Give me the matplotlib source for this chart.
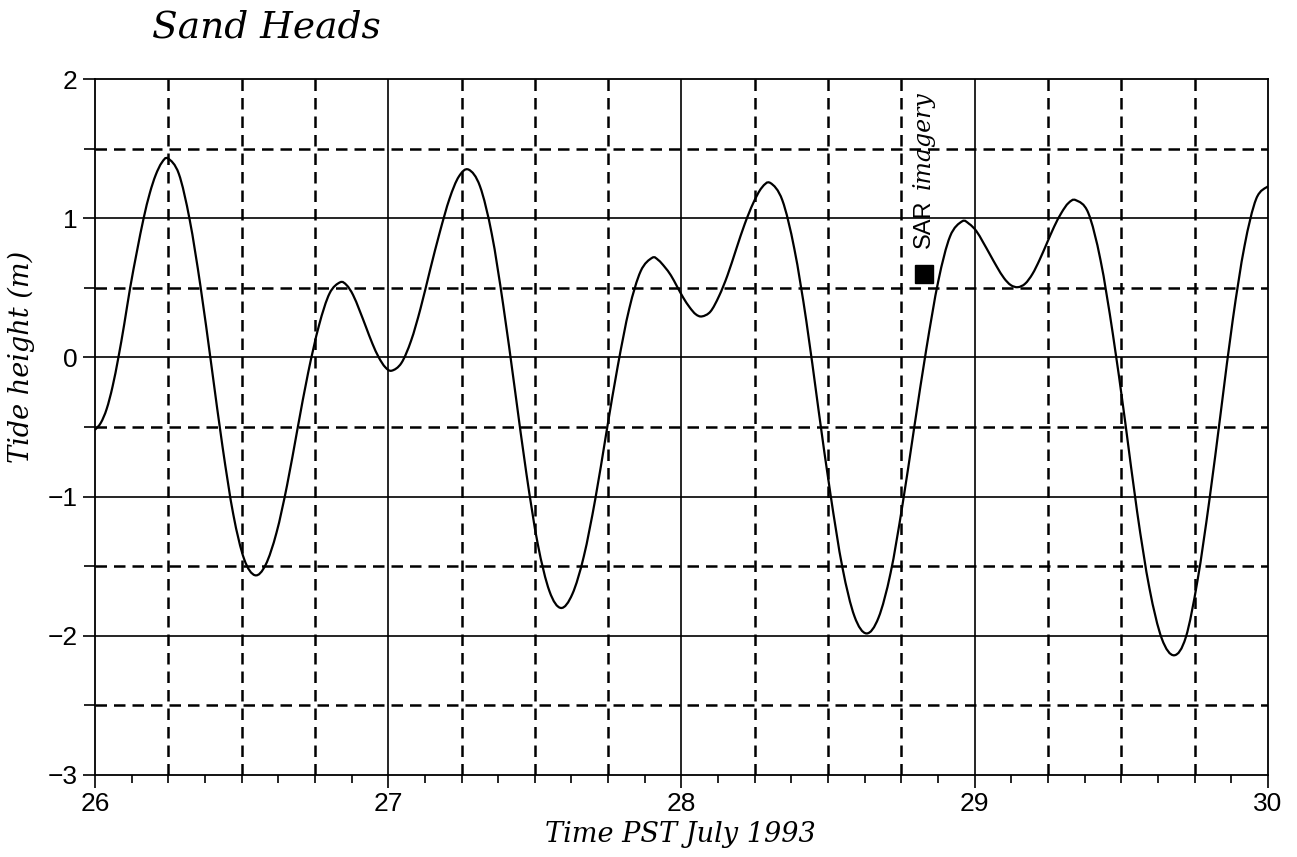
import matplotlib.pyplot as plt
import numpy as np
from matplotlib.ticker import MultipleLocator
from matplotlib.path import Path
from matplotlib.patches import PathPatch

# tide height (days of July 1993, metres)
time_days = [
    26.000, 26.020, 26.040, 26.060, 26.080, 26.100, 26.120, 26.143, 26.166, 26.187, 26.207, 26.228,
    26.249, 26.286, 26.323, 26.360, 26.398, 26.435, 26.472, 26.509,
    26.546, 26.582, 26.619, 26.655, 26.691, 26.727, 26.764, 26.800,
    26.836, 26.858, 26.880, 26.902, 26.924, 26.946, 26.968, 26.990,
    27.012, 27.045, 27.078, 27.110, 27.143, 27.176, 27.209, 27.241,
    27.274, 27.313, 27.353, 27.392, 27.432, 27.471, 27.510, 27.550,
    27.589, 27.628, 27.667, 27.706, 27.744, 27.783, 27.822, 27.861,
    27.900, 27.921, 27.943, 27.964, 27.985, 28.006, 28.028, 28.049,
    28.070, 28.099, 28.128, 28.157, 28.187, 28.216, 28.245, 28.274,
    28.303, 28.344, 28.385, 28.426, 28.467, 28.508, 28.549, 28.590,
    28.631, 28.672, 28.713, 28.753, 28.794, 28.835, 28.876, 28.916,
    28.957, 28.981, 29.005, 29.028, 29.052, 29.076, 29.100, 29.123,
    29.147, 29.172, 29.197, 29.221, 29.246, 29.271, 29.296, 29.320,
    29.345, 29.387, 29.429, 29.471, 29.513, 29.554, 29.596, 29.638,
    29.680, 29.720, 29.760, 29.800, 29.840, 29.880, 29.920, 29.960,
    30.000]

tide_m = [
    -0.52, -0.47, -0.37, -0.21, 0.00, 0.24, 0.50, 0.76, 1.00, 1.18, 1.31, 1.40,
    1.43, 1.32, 0.99, 0.51, -0.07, -0.64, -1.13, -1.45,
    -1.565, -1.49, -1.26, -0.92, -0.51, -0.11, 0.23, 0.46,
    0.54, 0.52, 0.45, 0.34, 0.22, 0.10, 0.00, -0.07,
    -0.095, -0.04, 0.12, 0.35, 0.63, 0.90, 1.14, 1.30,
    1.35, 1.23, 0.89, 0.38, -0.23, -0.83, -1.34, -1.68,
    -1.80, -1.70, -1.43, -1.02, -0.54, -0.06, 0.35, 0.62,
    0.716, 0.70, 0.65, 0.59, 0.51, 0.43, 0.36, 0.31,
    0.295, 0.33, 0.44, 0.59, 0.78, 0.96, 1.11, 1.22,
    1.254, 1.13, 0.78, 0.26, -0.37, -0.98, -1.51, -1.86,
    -1.983, -1.87, -1.55, -1.07, -0.50, 0.06, 0.55, 0.87,
    0.978, 0.96, 0.91, 0.83, 0.74, 0.65, 0.57, 0.52,
    0.505, 0.53, 0.60, 0.70, 0.82, 0.94, 1.04, 1.11,
    1.13, 1.04, 0.70, 0.17, -0.46, -1.11, -1.66, -2.02,
    -2.14, -2.01, -1.60, -1.03, -0.38, 0.27, 0.80, 1.14,
    1.23]

# SAR overpass marker
sar_time = 28.826
sar_height = 0.60

serif_it = dict(family='DejaVu Serif', style='italic')
sans = 'Liberation Sans'


def smooth_path(xs, ys):
    # Catmull-Rom through the read points, drawn as cubic Bezier segments
    pts = np.column_stack([xs, ys])
    n = len(pts)
    verts = [pts[0]]
    codes = [Path.MOVETO]
    for i in range(n - 1):
        p0 = pts[max(i - 1, 0)]
        p1 = pts[i]
        p2 = pts[i + 1]
        p3 = pts[min(i + 2, n - 1)]
        verts += [p1 + (p2 - p0) / 6, p2 - (p3 - p1) / 6, p2]
        codes += [Path.CURVE4] * 3
    return Path(verts, codes)


fig = plt.figure(figsize=(12.97, 8.57), dpi=100)
ax = fig.add_axes([0.0732, 0.0957, 0.9044, 0.812])

# grid: solid on whole units, dashed on quarter days / half metres
for x in np.arange(26.25, 30, 0.25):
    if abs(x - round(x)) < 1e-6:
        ax.axvline(x, color='black', lw=1.2, zorder=1)
    else:
        ax.axvline(x, color='black', lw=1.8, dashes=(4.6, 2.8), zorder=1)
for y in np.arange(-2.5, 2, 0.5):
    if abs(y - round(y)) < 1e-6:
        ax.axhline(y, color='black', lw=1.2, zorder=1)
    else:
        ax.axhline(y, color='black', lw=1.8, dashes=(4.6, 2.8), zorder=1)

ax.add_patch(PathPatch(smooth_path(time_days, tide_m), fill=False,
                       edgecolor='black', lw=1.6, zorder=3))
ax.plot(sar_time, sar_height, marker='s', color='black', markersize=13, zorder=4)

ax.text(sar_time, 0.79, 'SAR', rotation=90, ha='center', va='bottom',
        fontsize=17, family=sans, zorder=4)
ax.text(sar_time, 1.21, 'imagery', rotation=90, ha='center', va='bottom',
        fontsize=17, zorder=4, **serif_it)

ax.set_xlim(26, 30)
ax.set_ylim(-3, 2)
ax.xaxis.set_major_locator(MultipleLocator(1))
ax.xaxis.set_minor_locator(MultipleLocator(0.125))
ax.yaxis.set_major_locator(MultipleLocator(1))
ax.yaxis.set_minor_locator(MultipleLocator(0.5))
ax.tick_params(which='both', direction='out', width=1.2, labelsize=19)
ax.tick_params(axis='x', which='major', length=9, pad=3.5)
ax.tick_params(axis='x', which='minor', length=6)
ax.tick_params(axis='y', which='major', length=9, pad=3.5)
ax.tick_params(axis='y', which='minor', length=8)
for lab in ax.get_xticklabels() + ax.get_yticklabels():
    lab.set_family(sans)
for sp in ax.spines.values():
    sp.set_linewidth(1.3)

fig.text(152 / 1297, 1 - 38 / 857, 'Sand Heads', fontsize=27, ha='left', va='baseline', **serif_it)
fig.text(680 / 1297, 1 - 842 / 857, 'Time PST July 1993', fontsize=19.5, ha='center', va='baseline', **serif_it)
fig.text(21 / 1297, 1 - 357 / 857, 'Tide height (m)', fontsize=19.5, rotation=90,
         ha='center', va='center', **serif_it)

fig.savefig('out.png', dpi=100)
